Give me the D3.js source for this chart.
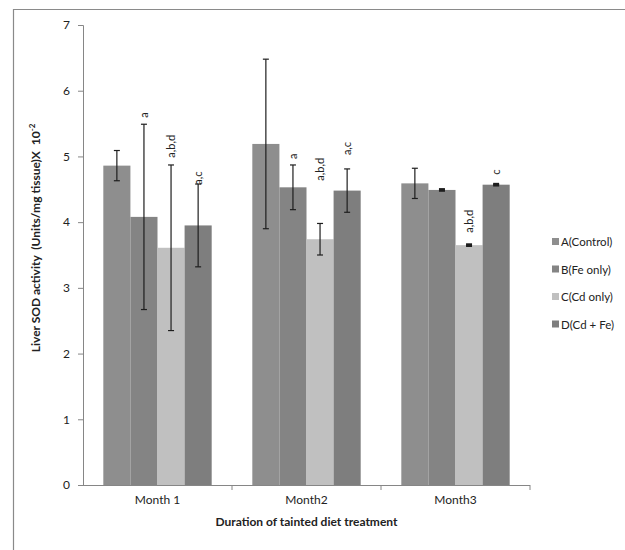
<!DOCTYPE html>
<html>
<head>
<meta charset="utf-8">
<script src="https://cdn.jsdelivr.net/npm/d3@7/dist/d3.min.js"></script>
<style>
  html, body { margin: 0; padding: 0; background: #fff; }
  svg { display: block; }
  text { font-family: Lato, "Liberation Sans", sans-serif; fill: #222; }
</style>
</head>
<body>
<svg id="chart" width="625" height="550"></svg>
<script>
// Liver SOD activity by treatment group and month
const months = ["Month 1", "Month2", "Month3"];
const groups = ["A(Control)", "B(Fe only)", "C(Cd only)", "D(Cd + Fe)"];
const groupColors = ["#8e8e8e", "#848484", "#c0c0c0", "#7e7e7e"];

// mean values per group, one array per month
const month1Values = [4.86, 4.08, 3.61, 3.95];
const month2Values = [5.19, 4.53, 3.74, 4.48];
const month3Values = [4.59, 4.49, 3.65, 4.57];

// standard error per group, one array per month
const month1Errors = [0.23, 1.41, 1.26, 0.63];
const month2Errors = [1.29, 0.34, 0.24, 0.33];
const month3Errors = [0.23, 0.01, 0.01, 0.01];

// significance letters per group, one array per month
const month1Letters = ["", "a", "a,b,d", "a,c"];
const month2Letters = ["", "a", "a,b,d", "a,c"];
const month3Letters = ["", "", "a,b,d", "c"];

const yTicks = [0, 1, 2, 3, 4, 5, 6, 7];

const values = [month1Values, month2Values, month3Values];
const errors = [month1Errors, month2Errors, month3Errors];
const letters = [month1Letters, month2Letters, month3Letters];

// letter labels sit on the value scale, just above each error bar
const letterBase = [
  [null, 5.59, 4.98, 4.57],
  [null, 4.96, 4.63, 5.02],
  [null, null, 3.84, 4.72]
];

const svg = d3.select("#chart");

// outer frame (runs off the right and bottom edges)
svg.append("path")
  .attr("d", "M13.5,700 V9.5 H700")
  .attr("fill", "none")
  .attr("stroke", "#8a8a8a")
  .attr("stroke-width", 1.2);

const plot = { left: 83, right: 530, top: 25, bottom: 485 };

const y = d3.scaleLinear().domain([0, 7]).range([plot.bottom, plot.top]);
const x0 = d3.scaleBand().domain(months).range([plot.left, plot.right]).padding(0);
const x1 = d3.scaleBand().domain(groups).range([0, x0.bandwidth()])
  .paddingInner(0).paddingOuter(0.75);

// bars
const barData = [];
months.forEach((m, i) => {
  groups.forEach((g, j) => {
    barData.push({ month: m, group: g, gi: j, value: values[i][j], err: errors[i][j],
                   letter: letters[i][j], letterAt: letterBase[i][j] });
  });
});

svg.append("g").selectAll("rect")
  .data(barData)
  .join("rect")
  .attr("x", d => x0(d.month) + x1(d.group))
  .attr("y", d => y(d.value))
  .attr("width", x1.bandwidth())
  .attr("height", d => y(0) - y(d.value))
  .attr("fill", d => groupColors[d.gi]);

// error bars
const eb = svg.append("g").attr("stroke", "#1e1e1e").attr("stroke-width", 1.2);
barData.forEach(d => {
  const cx = x0(d.month) + x1(d.group) + x1.bandwidth() / 2;
  const y1 = y(d.value + d.err), y2 = y(d.value - d.err);
  const capW = 3;
  const capStroke = d.err < 0.05 ? 2.4 : 1.2;
  eb.append("line").attr("x1", cx).attr("x2", cx).attr("y1", y1).attr("y2", y2);
  eb.append("line").attr("x1", cx - capW).attr("x2", cx + capW).attr("y1", y1).attr("y2", y1)
    .attr("stroke-width", capStroke);
  eb.append("line").attr("x1", cx - capW).attr("x2", cx + capW).attr("y1", y2).attr("y2", y2)
    .attr("stroke-width", capStroke);
});

// significance letters, rotated
svg.append("g").selectAll("text")
  .data(barData.filter(d => d.letter))
  .join("text")
  .attr("transform", d => {
    const cx = x0(d.month) + x1(d.group) + x1.bandwidth() / 2;
    return `translate(${cx + 4},${y(d.letterAt)}) rotate(-90)`;
  })
  .attr("font-size", 11)
  .attr("text-anchor", "start")
  .text(d => d.letter);

// y axis
const yAxis = d3.axisLeft(y).tickValues(yTicks).tickSize(5).tickPadding(8).tickFormat(d3.format("d"));
const gy = svg.append("g").attr("transform", `translate(${plot.left},0)`).call(yAxis);
gy.select(".domain").attr("stroke", "#868686");
gy.selectAll(".tick line").attr("stroke", "#868686");
gy.selectAll(".tick text").attr("font-size", 12).attr("font-family", "Lato, sans-serif").attr("fill", "#333");

// x axis
const gx = svg.append("g").attr("transform", `translate(0,${plot.bottom})`);
gx.append("line").attr("x1", plot.left).attr("x2", plot.right).attr("y1", 0.5).attr("y2", 0.5)
  .attr("stroke", "#868686");
const boundaries = months.map(m => x0(m)).concat([plot.right]);
gx.selectAll("line.tick").data(boundaries.slice(1))
  .join("line").attr("class", "tick")
  .attr("x1", d => d).attr("x2", d => d).attr("y1", 0).attr("y2", 5)
  .attr("stroke", "#868686");
gx.selectAll("text").data(months).join("text")
  .attr("x", d => x0(d) + x0.bandwidth() / 2)
  .attr("y", 19)
  .attr("text-anchor", "middle")
  .attr("font-size", 12)
  .attr("fill", "#333")
  .text(d => d);

// axis titles
svg.append("text")
  .attr("x", (plot.left + plot.right) / 2)
  .attr("y", 526)
  .attr("text-anchor", "middle")
  .attr("font-size", 12)
  .attr("font-weight", "bold")
  .text("Duration of tainted diet treatment");

const yt = svg.append("text")
  .attr("transform", "translate(40,238) rotate(-90)")
  .attr("text-anchor", "middle")
  .attr("font-size", 12)
  .attr("font-weight", "bold")
  .style("white-space", "pre");
yt.append("tspan").text("Liver SOD activity  (Units/mg tissue)X  10");
yt.append("tspan").attr("font-size", 8).attr("dy", -5).text("-2");

// legend
const lg = svg.append("g").attr("transform", "translate(552,242)");
const rows = lg.selectAll("g").data(groups).join("g")
  .attr("transform", (d, i) => `translate(0,${i * 27.5})`);
rows.append("rect").attr("x", 0).attr("y", -4).attr("width", 7).attr("height", 7)
  .attr("fill", (d, i) => groupColors[i]);
rows.append("text").attr("x", 9).attr("y", 4).attr("font-size", 11.5).attr("fill", "#333")
  .text(d => d);
</script>
</body>
</html>
